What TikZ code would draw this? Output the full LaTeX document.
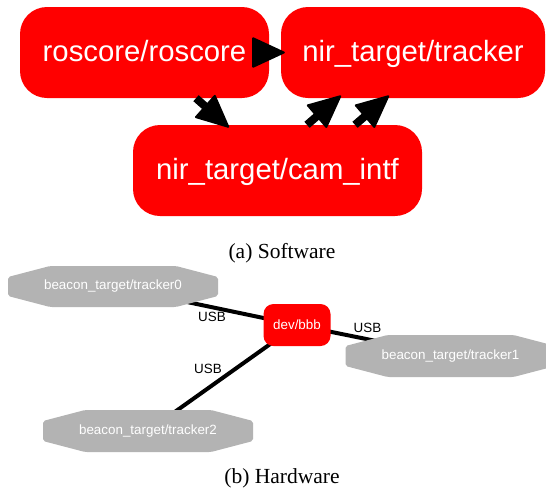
\documentclass[tikz,border=0pt]{standalone}
\usepackage{fontspec}
\setmainfont{Liberation Serif}
\setsansfont{Liberation Sans}
\usetikzlibrary{arrows.meta,backgrounds}

\definecolor{hwgray}{RGB}{179,179,179}

\tikzset{
    swnode/.style={rectangle, rounded corners=27pt, fill=red, text=white, inner sep=0pt,
        minimum height=91pt, text height=21pt, text depth=3pt,
        font=\sffamily\fontsize{29.3}{32}\selectfont},
    hwbox/.style={rectangle, rounded corners=10pt, fill=red, text=white, inner sep=0pt,
        minimum width=67pt, minimum height=42pt, font=\sffamily\fontsize{13.4}{15}\selectfont},
    hwnode/.style={rectangle, inner sep=0pt, minimum width=210pt, minimum height=41pt,
        text=white, font=\sffamily\fontsize{13.4}{15}\selectfont,
        path picture={\fill[hwgray, rounded corners=2pt]
            ([xshift=42pt]path picture bounding box.north west) -- ([xshift=-42pt]path picture bounding box.north east)
            -- ([yshift=-11pt]path picture bounding box.north east) -- ([yshift=11pt]path picture bounding box.south east)
            -- ([xshift=-42pt]path picture bounding box.south east) -- ([xshift=42pt]path picture bounding box.south west)
            -- ([yshift=11pt]path picture bounding box.south west) -- ([yshift=-11pt]path picture bounding box.north west) -- cycle;}},
    swedge/.style={black, line width=8pt, shorten >=-4pt,
        -{Triangle[length=34pt, width=31pt, line join=round, line width=2pt]}},
    hwedge/.style={black, line width=4pt},
    usb/.style={font=\sffamily\fontsize{13.4}{15}\selectfont, inner sep=0pt},
    caption/.style={font=\fontsize{21.5}{24}\selectfont, anchor=base, inner sep=0pt}
}

\begin{document}
\begin{tikzpicture}[x=1pt, y=-1pt]
    \useasboundingbox (0, 0) rectangle (546, 493);
    \clip (0, 0) rectangle (546, 493);

    % (a) software
    \node[swnode, minimum width=249pt] (ros) at (144.5, 52.5) {roscore/roscore};
    \node[swnode, minimum width=264pt] (trk) at (413, 52.5) {nir\_target/tracker};
    \node[swnode, minimum width=289pt] (cam) at (277.5, 170.5) {nir\_target/cam\_intf};

    \draw[swedge] (ros.east) -- (trk.west);
    \draw[swedge] (ros) -- (cam);
    \draw[swedge] ([xshift=29.5pt]cam.north) -- ([xshift=-75pt]trk.south);
    \draw[swedge] ([xshift=77.5pt]cam.north) -- ([xshift=-27pt]trk.south);

    \node[caption] (capa) at (282, 258) {(a) Software};

    % (b) hardware
    \node[hwnode] (t0) at (113, 286.5) {beacon\_target/tracker0};
    \node[hwnode, minimum height=42pt] (t1) at (450.5, 356) {beacon\_target/tracker1};
    \node[hwnode, minimum height=42pt] (t2) at (148, 431) {beacon\_target/tracker2};
    \node[hwbox] (bbb) at (297, 325) {dev/bbb};

    \begin{pgfonlayer}{background}
        \draw[hwedge] (t0.center) -- (bbb.center);
        \draw[hwedge] (bbb.center) -- (t1.center);
        \draw[hwedge] (bbb.center) -- (t2.center);
    \end{pgfonlayer}

    \node[usb] (u0) at (212, 316.7) {USB};
    \node[usb] (u1) at (367.5, 328) {USB};
    \node[usb] (u2) at (208, 369) {USB};

    \node[caption] (capb) at (282, 483) {(b) Hardware};
\end{tikzpicture}
\end{document}
